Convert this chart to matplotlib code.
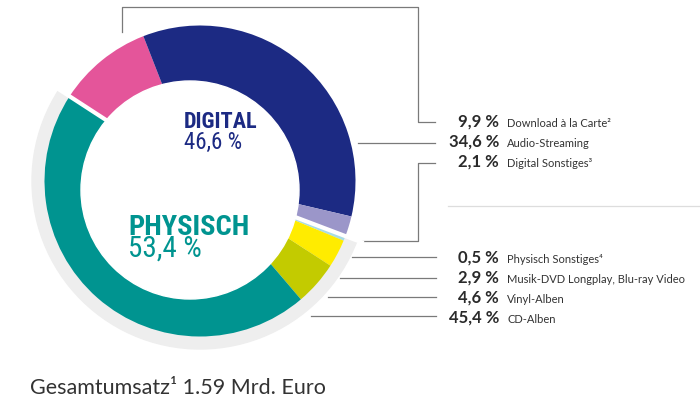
import matplotlib.pyplot as plt
from matplotlib.patches import Wedge, Circle
import numpy as np

# data
digital_labels = ['Download à la Carte²', 'Audio-Streaming', 'Digital Sonstiges³']
digital_values = [9.9, 34.6, 2.1]
physisch_labels = ['Physisch Sonstiges⁴', 'Musik-DVD Longplay, Blu-ray Video', 'Vinyl-Alben', 'CD-Alben']
physisch_values = [0.5, 2.9, 4.6, 45.4]
digital_colors = ['#e4559a', '#1c2a83', '#9b96c9']
physisch_colors = ['#a9dce3', '#ffec00', '#c3cb00', '#009490']
total_text = 'Gesamtumsatz¹ 1.59 Mrd. Euro'

H = 394


def Y(y):
    # image y (top down) -> axes y
    return H - y


def fmt(v):
    return ('%.1f' % v).replace('.', ',') + ' %'


fig = plt.figure(figsize=(7, 3.94), dpi=100)
ax = fig.add_axes([0, 0, 1, 1])

cx, cy, R = 200, Y(181), 155.5
start = 147
values = digital_values + physisch_values
colors = digital_colors + physisch_colors
split = start - sum(digital_values) * 3.6

# grey ring behind the physical part
ax.add_patch(Wedge((cx, cy), 168, start, split + 360, width=40, color='#eeeeee', zorder=0))

ax.pie(values, colors=colors, startangle=start, counterclock=False,
       radius=R, center=(cx, cy), frame=True,
       wedgeprops=dict(linewidth=0), normalize=True)

# white gaps between digital and physical
for a in [start, split]:
    t = np.deg2rad(a)
    ax.plot([cx, cx + 175 * np.cos(t)], [cy, cy + 175 * np.sin(t)],
            color='white', lw=3, zorder=3, solid_capstyle='butt')

# inner hole (slightly off centre)
ax.add_patch(Circle((190, Y(190)), 109, color='white', zorder=4))

narrow = ['Roboto Condensed', 'DejaVu Sans']
ax.text(184, Y(128), 'DIGITAL', color='#1c2a83', fontsize=16, fontweight='bold',
        family=narrow, fontstretch='condensed', va='baseline', zorder=5)
ax.text(184, Y(149), fmt(sum(digital_values)), color='#1c2a83', fontsize=16.5,
        family=narrow, fontstretch='condensed', va='baseline', zorder=5)
ax.text(128, Y(235), 'PHYSISCH', color='#009490', fontsize=20.5, fontweight='bold',
        family=narrow, fontstretch='condensed', va='baseline', zorder=5)
ax.text(128, Y(257), fmt(sum(physisch_values)), color='#009490', fontsize=21,
        family=narrow, fontstretch='condensed', va='baseline', zorder=5)

# legend rows
lato = ['Lato', 'DejaVu Sans']
rows = list(zip(digital_values, digital_labels, [127, 147, 167])) + \
       list(zip(physisch_values, physisch_labels, [263, 283, 303, 323]))
for v, lab, yb in rows:
    ax.text(499, Y(yb), fmt(v), ha='right', va='baseline', fontsize=12,
            fontweight='bold', color='#2a2a2a', family=lato)
    ax.text(507, Y(yb), lab, ha='left', va='baseline', fontsize=8,
            color='#333333', family=lato)

# leader lines
lc = dict(color='#7a7a7a', lw=0.9, zorder=1)
leaders = [
    [(122, 32), (122, 7), (418, 7), (418, 122), (435, 122)],
    [(358, 143), (435, 143)],
    [(435, 163), (418, 163), (418, 241), (357, 241)],
    [(352, 257), (436, 257)],
    [(340, 278), (436, 278)],
    [(328, 297), (436, 297)],
    [(311, 316), (436, 316)],
]
for pts in leaders:
    xs = [p[0] for p in pts]
    ys = [Y(p[1]) for p in pts]
    ax.plot(xs, ys, **lc)
ax.plot([448, 700], [Y(206), Y(206)], color='#dddddd', lw=0.9)

ax.text(30, Y(394), total_text, fontsize=15.5, color='#333333', family=lato,
        va='baseline')

ax.set_xlim(0, 700)
ax.set_ylim(0, H)
ax.set_aspect('auto')
ax.axis('off')
fig.savefig('out.png', dpi=100)
